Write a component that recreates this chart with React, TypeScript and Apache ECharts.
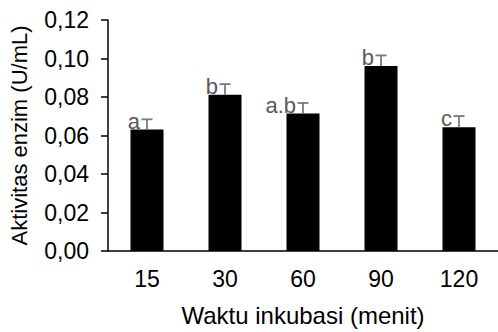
import React, { useEffect, useRef } from "react";
import * as echarts from "echarts";

const categories = ["15", "30", "60", "90", "120"];
const values = [0.0631, 0.0812, 0.0714, 0.0961, 0.0643];
const errors = [0.0053, 0.0055, 0.0055, 0.0055, 0.0058];
const letters = ["a", "b", "a.b", "b", "c"];
const yTicks = [0, 0.02, 0.04, 0.06, 0.08, 0.1, 0.12];

const FONT = "'Liberation Sans', Arial, sans-serif";

export default function App() {
  const ref = useRef<HTMLDivElement>(null);
  useEffect(() => {
    if (!ref.current) return;
    const chart = echarts.init(ref.current, undefined, { renderer: "svg" });
    chart.setOption({
      animation: false,
      grid: { left: 107, right: 0, top: 20, bottom: 78 },
      xAxis: {
        type: "category",
        data: categories,
        boundaryGap: true,
        axisLine: { show: true, lineStyle: { color: "#000", width: 1.5 } },
        axisTick: { show: false },
        axisLabel: { color: "#000", fontSize: 23, fontFamily: FONT, margin: 16 },
        name: "Waktu inkubasi (menit)",
        nameLocation: "middle",
        nameGap: 52,
        nameTextStyle: { color: "#000", fontSize: 24, fontFamily: FONT },
      },
      yAxis: {
        type: "value",
        min: yTicks[0],
        max: yTicks[yTicks.length - 1],
        interval: 0.02,
        splitLine: { show: false },
        axisLine: { show: true, lineStyle: { color: "#000", width: 1.5 } },
        axisTick: { show: true, length: 7, lineStyle: { color: "#000", width: 1.5 } },
        axisLabel: {
          color: "#000",
          fontSize: 23,
          fontFamily: FONT,
          margin: 19,
          formatter: (v: number) => v.toFixed(2).replace(".", ","),
        },
        name: "Aktivitas enzim (U/mL)",
        nameLocation: "middle",
        nameGap: 78,
        nameRotate: 90,
        nameTextStyle: { color: "#000", fontSize: 22, fontFamily: FONT },
      },
      series: [
        {
          type: "bar",
          data: values,
          barWidth: 33,
          itemStyle: { color: "#000" },
        },
        {
          type: "custom",
          data: values.map((v, i) => [i, v, errors[i]]),
          renderItem: (params: any, api: any) => {
            const i = api.value(0);
            const v = api.value(1);
            const e = api.value(2);
            const base = api.coord([i, v]);
            const top = api.coord([i, v + e]);
            const x = base[0];
            const half = 5.5;
            const st = { stroke: "#7a7a7a", lineWidth: 1.8 };
            return {
              type: "group",
              children: [
                { type: "line", shape: { x1: x, y1: base[1], x2: x, y2: top[1] }, style: st },
                { type: "line", shape: { x1: x - half, y1: top[1], x2: x + half, y2: top[1] }, style: st },
                {
                  type: "text",
                  style: {
                    text: letters[params.dataIndex],
                    x: x - 7,
                    y: base[1] + 2.5,
                    align: "right",
                    verticalAlign: "bottom",
                    fill: "#595959",
                    font: `22px ${FONT}`,
                  },
                },
              ],
            };
          },
          z: 10,
        },
      ],
    });
    return () => chart.dispose();
  }, []);
  return <div ref={ref} style={{ width: 498, height: 332, position: "absolute", left: 0, top: 0 }} />;
}
